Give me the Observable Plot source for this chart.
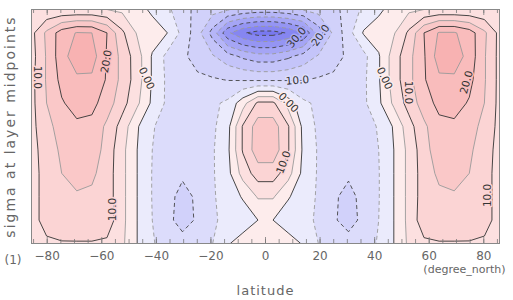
<!DOCTYPE html>
<html><head><meta charset="utf-8">
<script src="https://cdn.jsdelivr.net/npm/d3@7"></script>
<script src="https://cdn.jsdelivr.net/npm/@observablehq/plot@0.6"></script>
<style>body{margin:0;background:#fff} svg{display:block}</style>
</head><body><div id="chart"></div>
<script>
// Gaussian latitudes (degree_north)
const latitudes = [-85.76,-80.27,-74.74,-69.21,-63.68,-58.14,-52.61,-47.07,-41.54,-36.00,-30.47,-24.93,-19.39,-13.85,-8.31,-2.77,
                    2.77,8.31,13.85,19.39,24.93,30.47,36.00,41.54,47.07,52.61,58.14,63.68,69.21,74.74,80.27,85.76];
// sigma at layer midpoints (top to bottom)
const sigmaLevels = [0.05,0.14,0.23,0.32,0.41,0.50,0.59,0.68,0.77,0.86,0.95];
// zonal-mean field, one array per sigma level (south -> north)
const u_s005 = [5,5.5,5.5,5.5,5.5,5,4,2,-1,-4,-8,-11.5,-13,-14.5,-16,-17,-17,-16,-14.5,-13,-11.5,-8,-4,-1,2,4,5,5.5,5.5,5.5,5.5,6];
const u_s014 = [8.5,16,22.5,25.3,25,20,11,4.5,2.5,0,-6.5,-13,-22,-34,-39.5,-42,-42,-39.5,-35,-23,-14,-7,0.5,2.5,4.5,11,20,25.5,25.5,22.5,16,8.5];
const u_s023 = [8,15.5,23,28,27.5,19.5,13.5,7.3,-0.5,-6.5,-9,-12,-14.5,-18,-21,-23,-23,-21,-18,-14.5,-12,-9,-6.5,-0.5,7.5,13.5,19.5,27.5,28,23,15.5,8.5];
const u_s032 = [8.5,15.5,21.5,24,24,19.5,13.5,7.5,-0.5,-6,-7.5,-9,-9.5,-10.2,-10.5,-10.8,-10.8,-10.5,-10.2,-9.5,-9,-7.5,-6,-0.5,7.5,13.5,19.5,24,24,21.5,15.5,8.5];
const u_s041 = [8.5,15,19.5,22,21.5,17.5,12,6,-1,-6,-7,-7,-6,-4,3,11,11,3,-4,-6,-7,-7,-6,-1,6,12,17.5,21.5,22,19.5,15,8.5];
const u_s050 = [8.5,13.5,17,19,18.5,14,8,0.5,-4.5,-7.5,-8.5,-8.5,-6,-1.5,10.5,17.5,17.5,10.5,-1.5,-6,-8.5,-8.5,-7.5,-4.5,0.5,8,14,18.5,19,17,13.5,8.5];
const u_s059 = [8.5,12,16,18,18,13,6.5,0,-5,-8,-9,-8.5,-5.5,-1,10.5,18,18,10.5,-1,-5.5,-8.5,-9,-8,-5,0,6.5,13,18,18,16,12,8.5];
const u_s068 = [8.5,11.5,15,16.5,16,12.5,6.5,0,-5.2,-8.5,-9.5,-9,-5.5,-1.5,7,12.5,12.5,7,-1.5,-5.5,-9,-9.5,-8.5,-5.2,0,6.5,12.5,16,16.5,15,11.5,8.5];
const u_s077 = [8.5,11.5,14,14.5,14,12.5,6.5,0,-5.2,-9,-11,-9.5,-5.5,-3,0.5,5.5,5.5,0.5,-3,-5.5,-9.5,-11,-9,-5.2,0,6.5,12.5,14,14.5,14,11.5,8.5];
const u_s086 = [8.5,11.5,14,14.5,14.5,13,6.5,0,-5,-9,-11.5,-9.5,-5.5,-4,-3,0,0,-3,-4,-5.5,-9.5,-11.5,-9,-5,0,6.5,13,14.5,14.5,14,11.5,8.5];
const u_s095 = [7,9.3,9.5,9.5,9.5,9,6,0,-4.5,-7.5,-8.5,-7.5,-5,-0.5,2.5,4,4,2.5,-0.5,-5,-7.5,-8.5,-7.5,-4.5,0,6,9,9.5,9.5,9.5,9.3,7];

const xTicks = [-80,-60,-40,-20,0,20,40,60,80];
const xMinorTicks = d3.range(-85, 86, 5);
const thresholds = [-45,-40,-35,-30,-25,-20,-15,-10,-5,0,5,10,15,20,25];
const bandColors = ["#7878ef","#8686f1","#9595f3","#a5a5f5","#b5b5f7","#c4c4f9","#d1d1fa","#dcdcfb","#ebebfc",
                    "#fdecec","#fce0e0","#fbd4d4","#fac8c8","#f9bcbc","#f8b2b2"];
// contour labels
const labelText  = ["10.0","20.0","0.00","30.0","20.0","10.0","0.00","10.0","0.00","10.0","20.0","10.0","10.0"];
const labelLevel = [10,20,0,-30,-20,-10,0,10,0,10,20,10,10];
const labelLat   = [-83.6,-58.3,-43.6,11.4,20.2,11.7,8.4,6.6,43.6,52.4,73.7,81.4,-56.1];
const labelSigma = [0.311,0.25,0.315,0.158,0.15,0.323,0.408,0.638,0.315,0.369,0.33,0.765,0.819];
const labelAngle = [90,-80,65,-50,-55,-5,45,-70,65,90,-75,-90,-90];

const rows = [u_s005,u_s014,u_s023,u_s032,u_s041,u_s050,u_s059,u_s068,u_s077,u_s086,u_s095];
const values = rows.flat();
const nx = latitudes.length, ny = sigmaLevels.length;
const dLat = (latitudes[nx-1]-latitudes[0])/(nx-1);
const dSig = (sigmaLevels[ny-1]-sigmaLevels[0])/(ny-1);
const grid = {value: d => d, width: nx, height: ny,
  x1: latitudes[0]-dLat/2, x2: latitudes[nx-1]+dLat/2,
  y1: sigmaLevels[0]-dSig/2, y2: sigmaLevels[ny-1]+dSig/2, clip: true};
const labels = labelText.map((t,i)=>({t, level: labelLevel[i], lat: labelLat[i], sig: labelSigma[i], a: labelAngle[i]}));

const lineSet = (th, stroke, dash) => Plot.contour(values, {...grid, thresholds: th, fill: "none", stroke, strokeWidth: 0.9, strokeDasharray: dash});
const fmt = d => d < 0 ? "\u2212" + (-d) : String(d);
const W = 513, H = 300, mT = 9, mB = 57, innerH = H - mT - mB;

const chart = Plot.plot({
  width: W, height: H,
  marginLeft: 31, marginRight: 14, marginTop: mT, marginBottom: mB,
  style: {fontFamily: "DejaVu Sans", fontSize: "12px", color: "#666", background: "#fff"},
  x: {domain: [latitudes[0], latitudes[nx-1]], label: null},
  y: {domain: [sigmaLevels[ny-1], sigmaLevels[0]], axis: null},
  color: {type: "ordinal", domain: thresholds, range: bandColors},
  marks: [
    Plot.contour(values, {...grid, thresholds, fill: "value", stroke: "none"}),
    lineSet([5,15,25], "#9a9a9a", null),
    lineSet([0,10,20], "#333", null),
    lineSet([-5,-15,-25,-35], "#9a9a9a", "4,3"),
    lineSet([-10,-20,-30,-40], "#444", "4,3"),
    Plot.text(labels, {x: "lat", y: "sig", text: "t", rotate: "a", fill: "#333", stroke: "level", strokeWidth: 3,
      fontSize: 10.5, fontFamily: "DejaVu Sans"}),
    Plot.ruleX(xMinorTicks, {x: d => d, insetTop: innerH - 4, stroke: "#777", strokeWidth: 0.8}),
    Plot.ruleX(xMinorTicks, {x: d => d, insetBottom: innerH - 4, stroke: "#777", strokeWidth: 0.8}),
    Plot.ruleX(xTicks, {x: d => d, insetTop: innerH - 6, stroke: "#777", strokeWidth: 0.8}),
    Plot.ruleX(xTicks, {x: d => d, insetBottom: innerH - 6, stroke: "#777", strokeWidth: 0.8}),
    Plot.frame({stroke: "#888"}),
    Plot.axisX({ticks: xTicks, tickSize: 0, tickPadding: 8, label: null, fill: "#666", fontSize: 12, tickFormat: fmt}),
    Plot.text(["latitude"], {frameAnchor: "bottom", dy: 51, fontSize: 13, fill: "#666"}),
    Plot.text(["(degree_north)"], {frameAnchor: "bottom-right", textAnchor: "end", dx: 6, dy: 29, fontSize: 11, fill: "#666"}),
    Plot.text(["(1)"], {frameAnchor: "bottom-left", textAnchor: "start", dx: -27, dy: 20, fontSize: 12, fill: "#666"}),
    Plot.text(["sigma at layer midpoints"], {frameAnchor: "left", textAnchor: "middle", rotate: -90, dx: -21, fontSize: 14, fill: "#666"})
  ]
});
document.getElementById("chart").appendChild(chart);
d3.select(chart).selectAll("text").filter(function(){return this.textContent === "sigma at layer midpoints";}).attr("letter-spacing", "2");
d3.select(chart).selectAll("text").filter(function(){return this.textContent === "latitude";}).attr("letter-spacing", "1");
</script>
</body></html>
